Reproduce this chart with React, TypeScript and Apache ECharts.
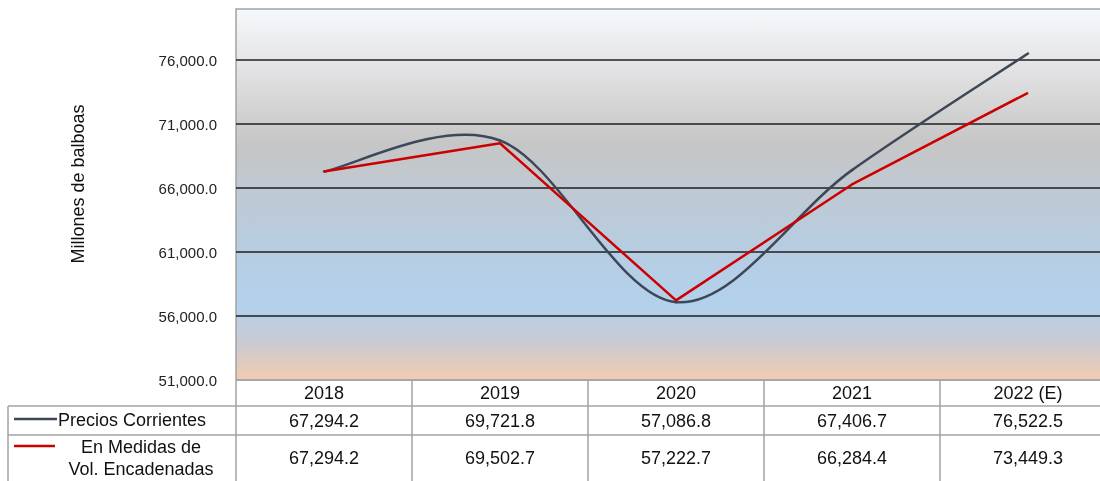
import React, { useEffect, useRef } from "react";
import * as echarts from "echarts";

const years = ["2018", "2019", "2020", "2021", "2022 (E)"];
const preciosCorrientes = [67294.2, 69721.8, 57086.8, 67406.7, 76522.5];
const volEncadenadas = [67294.2, 69502.7, 57222.7, 66284.4, 73449.3];
const yMin = 51000;
const yMax = 80000;
const yStep = 5000;

const FONT = "'Liberation Sans', Arial, sans-serif";
const fmt = (v: number) =>
  v.toLocaleString("en-US", { minimumFractionDigits: 1, maximumFractionDigits: 1 });

const GRID_LEFT = 236;
const GRID_TOP = 9;
const COL_W = 176;
const GRID_W = COL_W * years.length;
const GRID_H = 371;
const BORDER = "#a3a3a3";
const BLUE = "#3d4757";
const RED = "#cc0000";
const TABLE_FS = 18;

export default function App() {
  const ref = useRef<HTMLDivElement>(null);
  useEffect(() => {
    if (!ref.current) return;
    const chart = echarts.init(ref.current, null, { renderer: "svg" });
    const tableBottom = 481;
    const yHead = GRID_TOP + GRID_H; // 380
    const yRow1 = 406;
    const yRow2 = 435;
    const lines: any[] = [];
    const hl = (y: number, x1: number, x2: number) =>
      lines.push({ type: "line", shape: { x1, y1: y, x2, y2: y }, style: { stroke: BORDER, lineWidth: 1.5 }, silent: true });
    const vl = (x: number, y1: number, y2: number) =>
      lines.push({ type: "line", shape: { x1: x, y1, x2: x, y2 }, style: { stroke: BORDER, lineWidth: 1.5 }, silent: true });
    hl(yHead, GRID_LEFT, GRID_LEFT + GRID_W);
    hl(yRow1, 8, GRID_LEFT + GRID_W);
    hl(yRow2, 8, GRID_LEFT + GRID_W);
    vl(8, yRow1, tableBottom);
    for (let i = 0; i <= years.length; i++) vl(GRID_LEFT + i * COL_W, yHead, tableBottom);

    const axisBase = {
      type: "category",
      gridIndex: 0,
      position: "bottom",
      boundaryGap: true,
      axisLine: { show: false },
      axisTick: { show: false },
      splitLine: { show: false },
    };
    const labelBase = { fontFamily: FONT, fontSize: TABLE_FS, color: "#111", verticalAlign: "middle" };

    // Excel-style smoothed curve (Catmull-Rom / Bezier, tension 1/6)
    const renderSmooth = (params: any, api: any) => {
      const i = params.dataIndex;
      const n = preciosCorrientes.length;
      if (i >= n - 1) return null;
      const pt = (k: number) => {
        const kk = Math.max(0, Math.min(n - 1, k));
        return api.coord([kk, preciosCorrientes[kk]]);
      };
      const p0 = pt(i - 1);
      const p1 = pt(i);
      const p2 = pt(i + 1);
      const p3 = pt(i + 2);
      return {
        type: "bezierCurve",
        shape: {
          x1: p1[0],
          y1: p1[1],
          cpx1: p1[0] + (p2[0] - p0[0]) / 6,
          cpy1: p1[1] + (p2[1] - p0[1]) / 6,
          cpx2: p2[0] - (p3[0] - p1[0]) / 6,
          cpy2: p2[1] - (p3[1] - p1[1]) / 6,
          x2: p2[0],
          y2: p2[1],
        },
        style: { stroke: BLUE, lineWidth: 2.5, fill: "none", lineCap: "round" },
      };
    };

    chart.setOption({
      animation: false,
      grid: {
        left: GRID_LEFT,
        top: GRID_TOP,
        width: GRID_W,
        height: GRID_H,
        show: true,
        borderColor: BORDER,
        borderWidth: 1.5,
        backgroundColor: new echarts.graphic.LinearGradient(0, 0, 0, 1, [
          { offset: 0, color: "#f5f8fc" },
          { offset: 0.15, color: "#e4e4e6" },
          { offset: 0.36, color: "#c6c6c6" },
          { offset: 0.5, color: "#bfc9d3" },
          { offset: 0.65, color: "#b6cde2" },
          { offset: 0.8, color: "#b3d1ec" },
          { offset: 0.9, color: "#cacbd2" },
          { offset: 1, color: "#f3cbaf" },
        ]),
      },
      xAxis: [
        { ...axisBase, data: years, axisLabel: { ...labelBase, margin: 13 } },
        {
          ...axisBase,
          data: preciosCorrientes.map(fmt),
          axisLabel: { ...labelBase, margin: 41 },
        },
        {
          ...axisBase,
          data: volEncadenadas.map(fmt),
          axisLabel: { ...labelBase, margin: 78 },
        },
      ],
      yAxis: {
        type: "value",
        min: yMin,
        max: yMax,
        interval: yStep,
        axisLine: { show: false },
        axisTick: { show: false },
        axisLabel: {
          margin: 19,
          fontFamily: FONT,
          fontSize: 15,
          color: "#222",
          formatter: (v: number) => (v === yMax ? "" : fmt(v)),
        },
        splitLine: {
          show: true,
          showMinLine: false,
          showMaxLine: false,
          lineStyle: { color: "#1f1f1f", width: 1.5 },
        },
      },
      series: [
        {
          name: "Precios Corrientes",
          type: "custom",
          xAxisIndex: 0,
          yAxisIndex: 0,
          data: preciosCorrientes.map((v, i) => [i, v]),
          encode: { x: 0, y: 1 },
          renderItem: renderSmooth,
          z: 3,
        },
        {
          name: "En Medidas de Vol. Encadenadas",
          type: "line",
          data: volEncadenadas,
          symbol: "none",
          lineStyle: { color: RED, width: 2.5 },
          z: 4,
        },
      ],
      graphic: [
        ...lines,
        {
          type: "text",
          x: 78,
          y: 184,
          rotation: Math.PI / 2,
          style: {
            text: "Millones de balboas",
            font: `18px ${FONT}`,
            fill: "#111",
            align: "center",
            verticalAlign: "middle",
          },
        },
        { type: "line", shape: { x1: 14, y1: 419, x2: 57, y2: 419 }, style: { stroke: BLUE, lineWidth: 2.5 } },
        {
          type: "text",
          x: 58,
          y: 420,
          style: { text: "Precios Corrientes", font: `${TABLE_FS}px ${FONT}`, fill: "#111", verticalAlign: "middle" },
        },
        { type: "line", shape: { x1: 14, y1: 446, x2: 55, y2: 446 }, style: { stroke: RED, lineWidth: 2.5 } },
        {
          type: "text",
          x: 141,
          y: 447,
          style: { text: "En Medidas de", font: `${TABLE_FS}px ${FONT}`, fill: "#111", align: "center", verticalAlign: "middle" },
        },
        {
          type: "text",
          x: 141,
          y: 469,
          style: { text: "Vol. Encadenadas", font: `${TABLE_FS}px ${FONT}`, fill: "#111", align: "center", verticalAlign: "middle" },
        },
      ],
    });
    return () => chart.dispose();
  }, []);
  return (
    <div
      ref={ref}
      style={{ position: "fixed", left: 0, top: 0, width: GRID_LEFT + GRID_W, height: 481 }}
    />
  );
}
